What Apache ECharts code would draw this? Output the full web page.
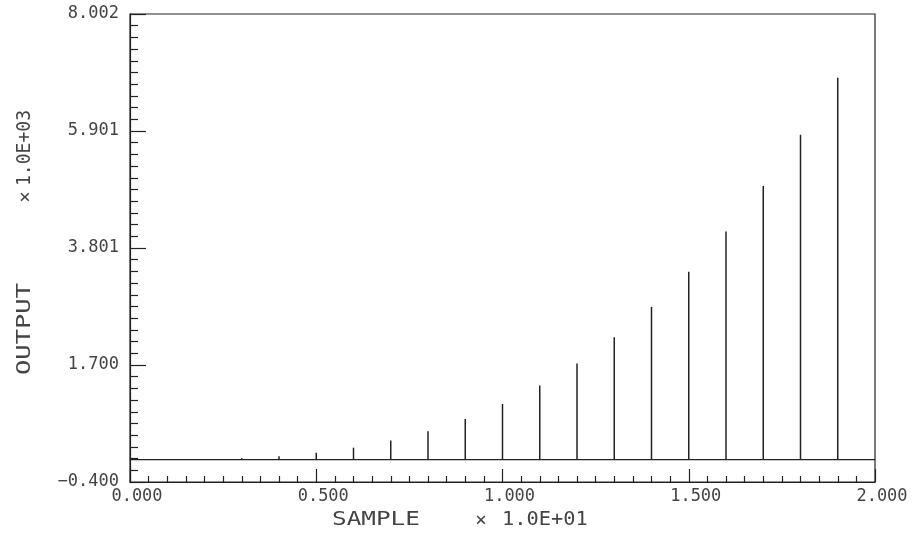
<!DOCTYPE html>
<html><head><meta charset="utf-8">
<script src="https://cdn.jsdelivr.net/npm/echarts@6/dist/echarts.min.js"></script>
<style>html,body{margin:0;padding:0;background:#fff}#c{width:917px;height:535px}</style>
</head><body><div id="c"></div>
<script>
// Data (x in units of 1.0E+01 shown on axis, y in units of 1.0E+03)
const samples = [0, 1, 2, 3, 4, 5, 6, 7, 8, 9, 10, 11, 12, 13, 14, 15, 16, 17, 18, 19];
const outputs = [0.000, 0.001, 0.008, 0.027, 0.064, 0.125, 0.216, 0.343, 0.512, 0.729,
                 1.000, 1.331, 1.728, 2.197, 2.744, 3.375, 4.096, 4.913, 5.832, 6.859];
const xTickLabels = ['0.000', '0.500', '1.000', '1.500', '2.000'];
const yTickLabels = ['\u22120.400', '1.700', '3.801', '5.901', '8.002'];
const xTitle = 'SAMPLE';
const xScale = '1.0E+01';
const yTitle = 'OUTPUT';
const yScale = '1.0E+03';

const X_MIN = 0, X_MAX = 20, X_INT = 5;
const Y_MIN = -0.4, Y_MAX = 8.002, Y_INT = 2.1005;

const FONT = 'DejaVu Sans Mono';
const TXT = '#444';
const LINE = '#222';

const chart = echarts.init(document.getElementById('c'), null, {renderer: 'canvas'});
chart.setOption({
  animation: false,
  backgroundColor: '#fff',
  grid: {left: 130, right: 42, top: 14, bottom: 53, show: true, borderColor: LINE, borderWidth: 1.2, backgroundColor: 'transparent'},
  xAxis: {
    type: 'value', min: X_MIN, max: X_MAX, interval: X_INT,
    axisLine: {show: true, onZero: false, lineStyle: {color: LINE, width: 1.2}},
    axisTick: {show: true, inside: true, length: 13, lineStyle: {color: LINE, width: 1.2}},
    minorTick: {show: true, splitNumber: 10, length: 6, lineStyle: {color: LINE, width: 1.2}},
    splitLine: {show: false}, minorSplitLine: {show: false},
    axisLabel: {
      margin: 6, color: TXT, fontFamily: FONT, fontSize: 17, padding: [0, 0, 0, 14],
      formatter: v => xTickLabels[Math.round((v - X_MIN) / X_INT)] || ''
    }
  },
  yAxis: {
    type: 'value', min: Y_MIN, max: Y_MAX, interval: Y_INT,
    axisLine: {show: true, onZero: false, lineStyle: {color: LINE, width: 1.2}},
    axisTick: {show: true, inside: true, length: 16, lineStyle: {color: LINE, width: 1.2}},
    minorTick: {show: true, splitNumber: 10, length: 8, lineStyle: {color: LINE, width: 1.2}},
    splitLine: {show: false}, minorSplitLine: {show: false},
    axisLabel: {
      margin: 11, color: TXT, fontFamily: FONT, fontSize: 17,
      formatter: v => yTickLabels[Math.round((v - Y_MIN) / Y_INT)] || ''
    }
  },
  series: [
    {
      type: 'line', data: [[X_MIN, 0], [X_MAX, 0]], showSymbol: false, silent: true,
      lineStyle: {color: LINE, width: 1.3}
    },
    {
      type: 'custom',
      data: samples.map((s, i) => [s, outputs[i]]),
      renderItem: function (params, api) {
        const p0 = api.coord([api.value(0), 0]);
        const p1 = api.coord([api.value(0), api.value(1)]);
        return {type: 'line', shape: {x1: p0[0], y1: p0[1], x2: p1[0], y2: p1[1]},
                style: {stroke: LINE, lineWidth: 1.5}};
      }
    }
  ],
  graphic: [
    {type: 'text', x: 332, y: 520, scaleX: 1.28, style: {text: xTitle, x: 0, y: 0, align: 'left', verticalAlign: 'middle', font: '19px "' + FONT + '"', fill: TXT}},
    {type: 'text', x: 481, y: 521, style: {text: '\u00d7', x: 0, y: 0, align: 'center', verticalAlign: 'middle', font: '19px "' + FONT + '"', fill: TXT}},
    {type: 'text', x: 502, y: 520, scaleX: 1.07, style: {text: xScale, x: 0, y: 0, align: 'left', verticalAlign: 'middle', font: '19px "' + FONT + '"', fill: TXT}},
    {type: 'text', x: 25, y: 375, rotation: Math.PI / 2, scaleX: 1.34, style: {text: yTitle, x: 0, y: 0, align: 'left', verticalAlign: 'middle', font: '19px "' + FONT + '"', fill: TXT}},
    {type: 'text', x: 26, y: 197, rotation: Math.PI / 2, style: {text: '\u00d7', x: 0, y: 0, align: 'center', verticalAlign: 'middle', font: '19px "' + FONT + '"', fill: TXT}},
    {type: 'text', x: 25, y: 186, rotation: Math.PI / 2, scaleX: 0.95, style: {text: yScale, x: 0, y: 0, align: 'left', verticalAlign: 'middle', font: '19px "' + FONT + '"', fill: TXT}}
  ]
});
</script>
</body></html>
